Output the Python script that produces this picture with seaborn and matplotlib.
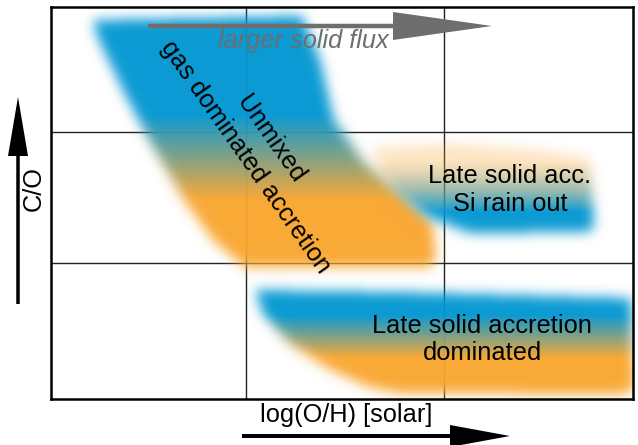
import numpy as np
import matplotlib
matplotlib.use("Agg")
import matplotlib.pyplot as plt
from matplotlib.path import Path
import seaborn as sns

# ---- schematic axis (units ~ pixels of the drawing area) ----
x_range = (0, 582)
y_range = (0, 392)
grid_x = [194.7, 393.0]
grid_y = [136.3, 267.3]

# ---- regions: outlines and colour gradient (blue <-> orange) ----
gas_x = [42, 251, 269, 283, 313, 351, 381, 385, 379, 194, 163, 133, 98, 72, 47]
gas_y = [379, 383, 339, 279, 237, 204, 177, 141, 132, 132, 158, 199, 259, 309, 361]
gas_blue_y, gas_orange_y, gas_orange_alpha = 284, 199, 1.0

si_x = [321, 399, 489, 539, 543, 536, 419, 378, 348, 329]
si_y = [251, 255, 249, 241, 172, 167, 166, 182, 204, 228]
si_blue_y, si_orange_y, si_orange_alpha = 187, 239, 0.3

late_x = [204, 349, 580, 583, 576, 349, 318, 278, 238, 212]
late_y = [109, 107, 101, 12, 5, 6, 12, 30, 56, 85]
late_blue_y, late_orange_y, late_orange_alpha = 84, 41, 1.0

blue = np.array([0, 150, 210]) / 255
orange = np.array([250, 165, 45]) / 255

sns.set_theme(style="white")
plt.rcParams['font.family'] = ['Liberation Sans', 'DejaVu Sans']
plt.rcParams['text.color'] = 'black'
FS = 18.3

fig = plt.figure(figsize=(6.38, 4.45), dpi=100)
ax = fig.add_axes([51 / 638, 46 / 445, 582 / 638, 392 / 445])
ax.set_xlim(*x_range)
ax.set_ylim(*y_range)

# grid via ticks
ax.set_xticks(grid_x)
ax.set_yticks(grid_y)
ax.set_xticklabels([])
ax.set_yticklabels([])
ax.tick_params(length=0)
ax.grid(True, color="#222222", linewidth=1.0, zorder=1)
ax.set_axisbelow(True)
for s in ax.spines.values():
    s.set_color("black")
    s.set_linewidth(1.8)
    s.set_zorder(5)

# ---- blurred gradient regions ----
pad = 30
xs = np.arange(x_range[0] - pad, x_range[1] + pad) + 0.5
ys = np.arange(y_range[0] - pad, y_range[1] + pad) + 0.5
X, Y = np.meshgrid(xs, ys)
pts = np.column_stack([X.ravel(), Y.ravel()])


def blur(a, s):
    r = int(3 * s)
    k = np.exp(-0.5 * (np.arange(-r, r + 1) / s) ** 2)
    k /= k.sum()
    a = np.apply_along_axis(lambda v: np.convolve(v, k, mode="same"), 0, a)
    a = np.apply_along_axis(lambda v: np.convolve(v, k, mode="same"), 1, a)
    return a


rgb = np.ones(X.shape + (3,))
alpha_tot = np.zeros(X.shape)
regions = [
    (gas_x, gas_y, gas_blue_y, gas_orange_y, gas_orange_alpha),
    (si_x, si_y, si_blue_y, si_orange_y, si_orange_alpha),
    (late_x, late_y, late_blue_y, late_orange_y, late_orange_alpha),
]
for rx, ry, yb, yo, oa in regions:
    mask = Path(np.column_stack([rx, ry])).contains_points(pts).reshape(X.shape).astype(float)
    mask = blur(mask, 6.0)
    t = np.clip((Y - yo) / (yb - yo), 0, 1)
    col = t[..., None] * blue + (1 - t[..., None]) * orange
    a = mask * (oa + (1 - oa) * t)
    rgb = rgb * (1 - a[..., None]) + col * a[..., None]
    alpha_tot = 1 - (1 - alpha_tot) * (1 - a)

# un-premultiply against white to get RGBA layer
with np.errstate(invalid="ignore", divide="ignore"):
    col_layer = np.where(alpha_tot[..., None] > 1e-4,
                         (rgb - (1 - alpha_tot[..., None])) / alpha_tot[..., None], 1.0)
col_layer = np.clip(col_layer, 0, 1)
img = np.dstack([col_layer, np.clip(alpha_tot * 0.96, 0, 1)])
ax.imshow(img, extent=(xs[0] - 0.5, xs[-1] + 0.5, ys[0] - 0.5, ys[-1] + 0.5),
          origin="lower", interpolation="bilinear", zorder=2, aspect="auto")
ax.set_xlim(*x_range)
ax.set_ylim(*y_range)

# ---- arrows ----
ax.arrow(97, 373, 344, 0, width=4.5, head_width=28, head_length=99,
         length_includes_head=True, color="#6e6e6e", zorder=4, linewidth=0)
ax.arrow(191, -37, 268, 0, width=4.0, head_width=22, head_length=60,
         length_includes_head=True, color="black", clip_on=False, linewidth=0)
ax.arrow(-33, 95, 0, 207, width=3.5, head_width=20, head_length=59,
         length_includes_head=True, color="black", clip_on=False, linewidth=0)

# ---- texts ----
ax.text(252, 358, "larger solid flux", color="#6e6e6e", fontsize=FS, style="italic",
        ha="center", va="center", zorder=6)
ax.text(207, 251, "Unmixed\ngas dominated accretion", color="black", fontsize=FS,
        rotation=-55, rotation_mode="anchor", ha="center", va="center",
        multialignment="center", linespacing=1.35, zorder=6)
ax.text(459, 209, "Late solid acc.\nSi rain out", color="black", fontsize=FS,
        ha="center", va="center", multialignment="center", linespacing=1.2, zorder=6)
ax.text(431, 59.5, "Late solid accretion\ndominated", color="black", fontsize=FS,
        ha="center", va="center", multialignment="center", linespacing=1.2, zorder=6)
ax.text(-17, 210, "C/O", color="black", fontsize=FS, rotation=90, ha="center",
        va="center", clip_on=False)
ax.text(295, -16, "log(O/H) [solar]", color="black", fontsize=FS, ha="center",
        va="center", clip_on=False)

fig.savefig("out.png", dpi=100)
